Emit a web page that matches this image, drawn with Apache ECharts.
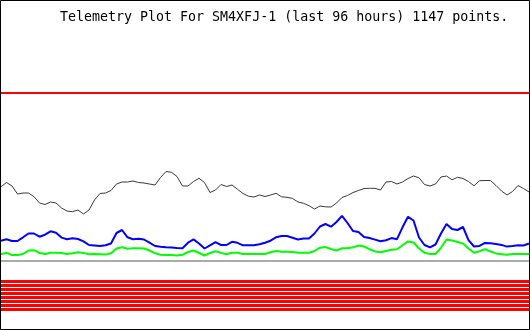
<!DOCTYPE html>
<html>
<head>
<meta charset="utf-8">
<script src="https://cdn.jsdelivr.net/npm/echarts@6/dist/echarts.min.js"></script>
<style>html,body{margin:0;padding:0;background:#fff;}#c{width:530px;height:330px;}</style>
</head>
<body>
<div id="c"></div>
<script>
// hours (0..96), one sample per hour
var hours = [];
for (var h = 0; h <= 96; h++) hours.push(h);

var blackVals = [74.3,78.5,75,67,68,68,64.3,58,56.5,59,58,53,50,49.3,51,47,51,61,67.5,68,70.5,77,79,79,80,78.5,78,77,76,83.5,89.5,88.7,84.5,75,75,79.5,82.7,78.5,68.5,71,76.5,74.5,76,71.7,67.5,64.8,64,66,64.5,66,67.7,64.2,63.7,62.6,59,57.7,55.3,52,55,54.2,54,58,63.5,65.5,68.5,70.5,72.5,72.7,72.7,71,79,79.5,77,79,82.5,85,83.2,76.5,75,77,84,85,81.2,83.7,82.5,79.5,75.2,80.3,80.5,80.5,75.5,70,66,69.5,75.5,72.5,69];

var blueVals = [20.3,21.7,20,20,23.7,27.5,27.5,24.3,26.3,29.7,28.2,23.4,21.8,22.7,22,19.7,16,15.6,15,15.8,17.5,28,31,23.7,21.7,22.3,21.5,18.3,15,14.3,13.7,13.6,12.9,12.7,18.3,21.6,17.5,12.5,15.6,18.8,16,16,19.2,18.2,15.7,15.7,15.8,16.8,18.3,20.3,23.7,25,25,23.2,21.5,22.6,22.5,27.5,34.5,37,34.3,39,45.2,38,30,29,24.1,23,21.4,19.8,20.8,22.9,21.8,33.7,44.2,40.5,23.5,16,13.7,16.5,27.5,37,32,31,34,20.8,14.5,15.1,18.1,17.8,17,16.1,14.4,15,15.8,15.5,17.5];

var greenVals = [7,8.1,6,6,7,10.4,10.8,8,7,8.3,8.3,7.9,7,7.7,8.7,8.1,6.8,7,6.7,6.4,7.7,12.5,13.7,12.3,12.7,12.7,12.5,10.5,7.7,6.3,6,6,5.5,6.2,9,10.5,8,5.5,8,9.7,8.1,6.8,8.3,8.3,7,7,7,7,7,8.7,10,9.3,9.3,9,8.3,8.3,8.3,10,13.3,13.9,12,10.5,12.7,12.8,13.8,15.4,14.5,11.8,9.6,8.7,10,11.3,11.8,15.7,19.6,18.5,12.5,8.2,6.9,7,13.2,21.5,20.5,19,17.4,12.5,8.3,9.8,11.7,9.5,7.6,6.8,6.3,7,7,7,7];

var upperLimit = 168;   // red reference level
var baseLevel = 0;      // grey baseline
var stripeLevels = [-20.5,-24.5,-28.5,-32.5,-36.5,-40.5,-44.5,-48.5];

var titleText = 'Telemetry Plot For SM4XFJ-1 (last 96 hours) 1147 points.';

function pairs(vals){ return hours.map(function(t,i){ return [t, vals[i]]; }); }
function level(v){ return [[0, v],[96, v]]; }

var series = [];
stripeLevels.forEach(function(v){
  series.push({type:'line', data:level(v), showSymbol:false, silent:true,
    lineStyle:{color:'#ff0000', width:3}});
});
series.push({type:'line', data:level(baseLevel), showSymbol:false, silent:true,
  lineStyle:{color:'#aaaaaa', width:2}});
series.push({type:'line', data:level(upperLimit), showSymbol:false, silent:true,
  lineStyle:{color:'#ff0000', width:2}});
series.push({type:'line', data:pairs(greenVals), showSymbol:false,
  lineStyle:{color:'#00ff00', width:2}});
series.push({type:'line', data:pairs(blueVals), showSymbol:false,
  lineStyle:{color:'#0000ff', width:2}});
series.push({type:'line', data:pairs(blackVals), showSymbol:false,
  lineStyle:{color:'#3a3a3a', width:1}});

var chart = echarts.init(document.getElementById('c'), null, {renderer:'canvas'});
chart.setOption({
  animation:false,
  backgroundColor:'#ffffff',
  title:{text:titleText, left:60, top:11, padding:0,
    textStyle:{fontFamily:'DejaVu Sans Mono', fontSize:13.3, fontWeight:'normal', color:'#000'}},
  grid:{left:1, right:1, top:0, bottom:0},
  xAxis:{type:'value', min:0, max:96, show:false},
  yAxis:{type:'value', min:-69, max:261, show:false},
  graphic:[{type:'rect', shape:{x:0.5, y:0.5, width:529, height:329},
    style:{fill:'none', stroke:'#000', lineWidth:1}, silent:true}],
  series:series
});
</script>
</body>
</html>
